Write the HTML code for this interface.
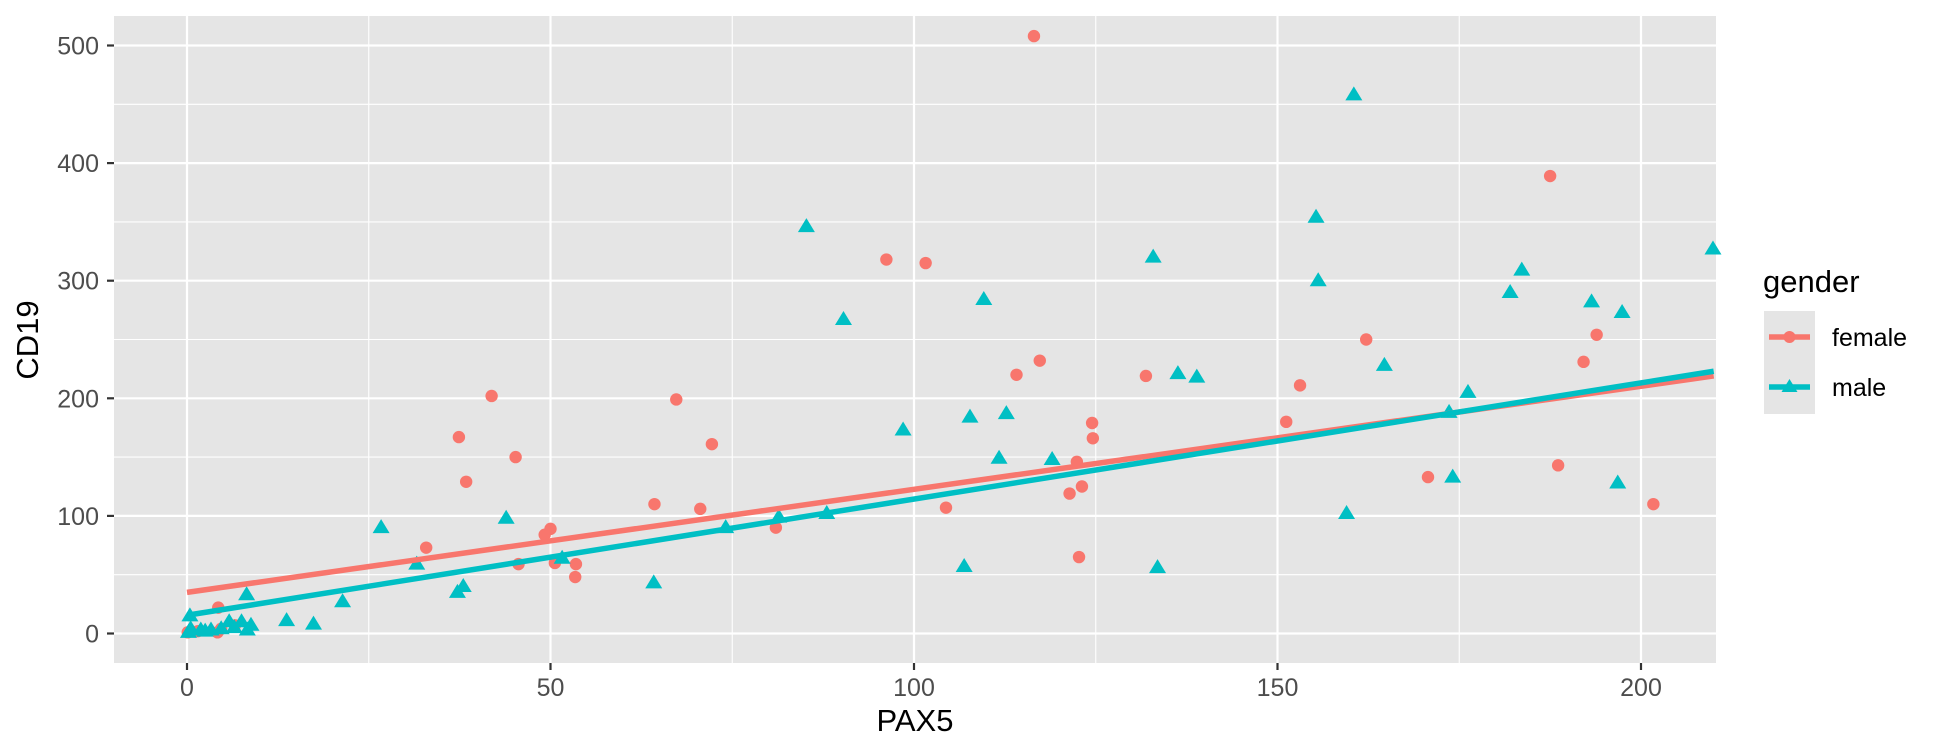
<!DOCTYPE html>
<html><head><meta charset="utf-8"><style>
html,body{margin:0;padding:0;background:#fff;}
svg{display:block;font-family:"Liberation Sans",Arial,sans-serif;}
</style></head><body>
<svg id="chart" width="1944" height="756" viewBox="0 0 1944 756">
<rect x="114" y="16" width="1602" height="647" fill="#e5e5e5"/>
<g id="grid"></g>
<g id="lines"></g>
<g id="points"></g>
<g id="axes"></g>
<text x="915" y="731" font-size="31" text-anchor="middle" fill="#000">PAX5</text>
<text transform="translate(38,340) rotate(-90)" font-size="31" text-anchor="middle" fill="#000">CD19</text>
<g>
<text x="1763" y="292" font-size="31" fill="#000">gender</text>
<rect x="1764" y="311" width="51" height="103" fill="#e5e5e5"/>
<g>
<line x1="1769" y1="337" x2="1810" y2="337" stroke="#F8766D" stroke-width="5.5"/>
<circle cx="1789.5" cy="337" r="6" fill="#F8766D"/>
<text x="1832" y="346" font-size="25" fill="#000">female</text>
</g>
<g>
<line x1="1769" y1="387" x2="1810" y2="387" stroke="#00BFC4" stroke-width="5.5"/>
<polygon points="1789.5,379 1797.5,392 1781.5,392" fill="#00BFC4"/>
<text x="1832" y="396" font-size="25" fill="#000">male</text>
</g>
</g>
</svg>
<script>
const xTicks = [0, 50, 100, 150, 200];
const yTicks = [0, 100, 200, 300, 400, 500];
const xMinor = [25, 75, 125, 175];
const yMinor = [50, 150, 250, 350, 450];
const femaleX = [116.5,96.2,101.6,67.3,72.2,64.3,70.6,81,104.4,114.1,117.3,124.5,124.6,122.4,121.4,123.1,122.7,131.9,41.9,37.4,45.2,38.4,32.9,50,49.2,45.6,50.6,53.5,53.4,4.3,6.6,0.1,1.5,4.2,4.7,187.5,162.2,153.1,151.2,170.7,188.6,192.1,193.9,201.7];
const femaleY = [508,318,315,199,161,110,106,90,107,220,232,179,166,146,119,125,65,219,202,167,150,129,73,89,84,59,60,59,48,22,7,1,2,1,4,389,250,211,180,133,143,231,254,110];
const maleX = [85.2,90.3,109.6,107.7,112.7,98.5,111.7,119,106.9,64.2,74.1,81.4,88,132.9,133.5,160.5,155.3,155.6,136.3,138.9,164.7,159.5,176.2,173.6,174.1,182,183.6,193.2,197.4,196.8,209.9,26.7,43.9,31.6,37.2,38,21.4,8.2,13.7,17.4,8.8,8.3,7.5,5.8,0.4,51.6,0.5,1.9,3.3,4.7,2.5,6.5,0.2];
const maleY = [346,267,284,184,187,173,149,148,57,43,90,99,102,320,56,458,354,300,221,218,228,102,205,188,133,290,309,282,273,128,327,90,98,59,35,40,27,33,11,8,7,3,10,10,15,64,4,3,3,4,2,5,1];
const femaleFit = [35, 219];
const maleFit = [15.5, 223];
const fitX = [0, 210];

const NS = 'http://www.w3.org/2000/svg';
function sx(v){ return 187 + v * 7.27; }
function sy(v){ return 633.5 - v * 1.176; }
function mk(tag, attrs, parent){
  const e = document.createElementNS(NS, tag);
  for (const k in attrs) e.setAttribute(k, attrs[k]);
  parent.appendChild(e);
  return e;
}
const grid = document.getElementById('grid');
const axes = document.getElementById('axes');
xMinor.forEach(v => {
  const l = mk('line', {x1:sx(v), x2:sx(v), y1:16, y2:663, stroke:'#fff', 'stroke-width':1.1}, grid);
  
  
});
yMinor.forEach(v => {
  const l = mk('line', {x1:114, x2:1716, y1:sy(v), y2:sy(v), stroke:'#fff', 'stroke-width':1.1}, grid);
  
  
});
xTicks.forEach(v => {
  const l = mk('line', {x1:sx(v), x2:sx(v), y1:16, y2:663, stroke:'#fff', 'stroke-width':2.2}, grid);
  
  
  const t = mk('line', {x1:sx(v), x2:sx(v), y1:663, y2:670, stroke:'#333', 'stroke-width':2.2}, axes);
  
  
  const tx = mk('text', {x:sx(v), y:696, 'font-size':25, fill:'#4d4d4d', 'text-anchor':'middle'}, axes);
  tx.textContent = v;
  
  
});
yTicks.forEach(v => {
  const l = mk('line', {x1:114, x2:1716, y1:sy(v), y2:sy(v), stroke:'#fff', 'stroke-width':2.2}, grid);
  
  
  const t = mk('line', {x1:107, x2:114, y1:sy(v), y2:sy(v), stroke:'#333', 'stroke-width':2.2}, axes);
  
  
  const tx = mk('text', {x:99, y:sy(v) + 9, 'font-size':25, fill:'#4d4d4d', 'text-anchor':'end'}, axes);
  tx.textContent = v;
  
  
});
const pts = document.getElementById('points');
femaleX.forEach((x, i) => {
  const c = mk('circle', {cx:sx(x), cy:sy(femaleY[i]), r:6.2, fill:'#F8766D'}, pts);
  
  
});
maleX.forEach((x, i) => {
  const cx = sx(x), cy = sy(maleY[i]);
  const p = mk('polygon', {points:`${cx},${cy-8.5} ${cx+8.5},${cy+5.5} ${cx-8.5},${cy+5.5}`, fill:'#00BFC4'}, pts);
  
  
});
const lf = mk('line', {x1:sx(fitX[0]), y1:sy(femaleFit[0]), x2:sx(fitX[1]), y2:sy(femaleFit[1]), stroke:'#F8766D', 'stroke-width':5.5}, pts);


const lm = mk('line', {x1:sx(fitX[0]), y1:sy(maleFit[0]), x2:sx(fitX[1]), y2:sy(maleFit[1]), stroke:'#00BFC4', 'stroke-width':5.5}, pts);


</script>
</body></html>
